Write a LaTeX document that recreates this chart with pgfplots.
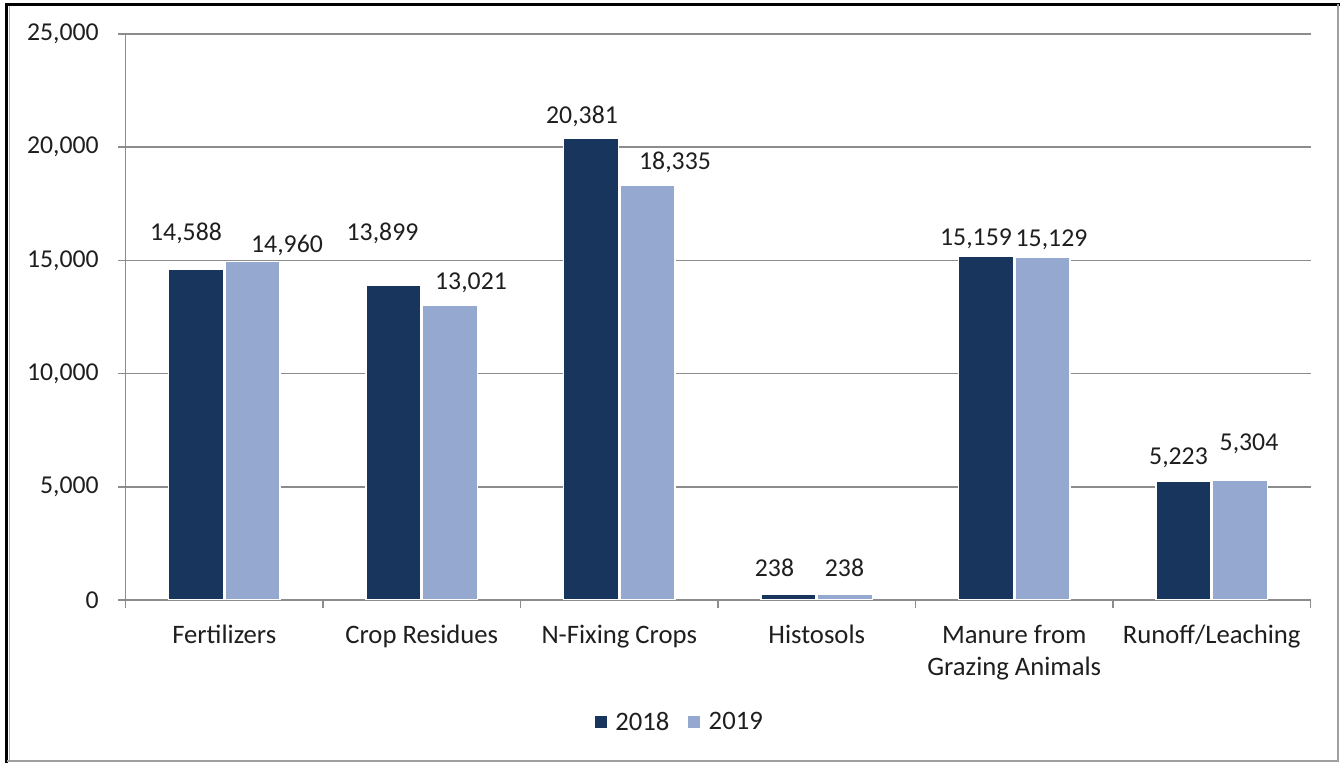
\documentclass[border=0pt]{standalone}
\usepackage{pgfplots}
\pgfplotsset{compat=1.18}
\usepackage{pgfplotstable}
\usepackage{fontspec}
\setmainfont{Carlito}
\definecolor{darkbar}{RGB}{24,54,93}
\definecolor{lightbar}{RGB}{149,169,208}
\definecolor{gridgray}{RGB}{140,140,140}
\definecolor{txt}{RGB}{30,30,30}
\newcommand{\cf}{\fontsize{20pt}{24pt}\selectfont}
\newcommand{\nf}{\fontsize{19.3pt}{24pt}\selectfont}

\pgfplotstableread{
x y dx dy
0 14588 -10 29
1 13899 -11 45
2 20381 -9 15
3 238 -14 18
4 15159 -10 11
5 5223 -5 17
}\tA
\pgfplotstableread{
x y dx dy
0 14960 34.5 9
1 13021 21 16
2 18335 27.5 15
3 238 -0.5 18
4 15129 9 11
5 5304 9 29
}\tB

\begin{document}
\begin{tikzpicture}
\useasboundingbox (0pt,0pt) rectangle (1005pt,572.25pt);
\begin{scope}[x=0.75pt,y=-0.75pt,shift={(0pt,572.25pt)}]
\draw[black,line width=2.2pt] (6.7,763)--(6.7,4.5)--(1340,4.5);
\draw[gray!75,line width=1.5pt] (1338,4.5)--(1338,761.5)--(6.7,761.5);
\draw[gray!60,line width=0.8pt] (9.6,6)--(9.6,760);
\end{scope}
\begin{axis}[
  at={(94.125pt,122.25pt)}, anchor=south west,
  scale only axis, width=888.75pt, height=424.5pt,
  ybar=1.125pt, bar width=41.25pt,
  xmin=-0.5, xmax=5.5, ymin=0, ymax=25000,
  enlargelimits=false,
  axis x line*=bottom, axis y line*=left,
  axis line style={gridgray, line width=1.3pt},
  ymajorgrids, grid style={gridgray, line width=1.3pt},
  ytick={0,5000,...,25000},
  scaled y ticks=false,
  xtick={0,...,5},
  xticklabels={Fertilizers,Crop Residues,N-Fixing Crops,Histosols,{Manure from\\Grazing Animals},Runoff/Leaching},
  minor xtick={-0.5,0.5,...,5.5},
  tick align=outside,
  major tick length=5.6pt, minor tick length=6pt,
  tick style={gridgray, line width=1.3pt},
  major x tick style={draw=none},
  /pgf/number format/.cd, fixed, precision=0, 1000 sep={,}, assume math mode=true,
  /pgfplots/.cd,
  every tick label/.append style={text=txt},
  x tick label style={font=\cf, align=center, anchor=north, yshift=-9.75pt},
  y tick label style={font=\nf, anchor=east, xshift=-11pt},
  nodes near coords,
  every node near coord/.append style={font=\nf, text=txt, inner sep=0pt, text depth=0pt, anchor=base},
  legend style={at={(0.468,-0.2155)}, anchor=center, draw=none, fill=none, font=\cf, text=txt, legend columns=2,
    /tikz/every even column/.append style={column sep=12pt}},
  legend image code/.code={\path[#1,draw=none] (0pt,-4.5pt) rectangle (9pt,4.5pt);},
]
\addplot[fill=darkbar, draw=white, line width=1pt,
  visualization depends on={\thisrow{dx}\as\labdx},
  visualization depends on={\thisrow{dy}\as\labdy},
  every node near coord/.append style={xshift={\labdx*0.75pt}, yshift={\labdy*0.75pt}}]
  table[x=x,y=y]{\tA};
\addplot[fill=lightbar, draw=white, line width=1pt,
  visualization depends on={\thisrow{dx}\as\labdx},
  visualization depends on={\thisrow{dy}\as\labdy},
  every node near coord/.append style={xshift={\labdx*0.75pt}, yshift={\labdy*0.75pt}}]
  table[x=x,y=y]{\tB};
\legend{\hspace{4.5pt}2018,\hspace{4.5pt}2019}
\end{axis}
\end{tikzpicture}
\end{document}
